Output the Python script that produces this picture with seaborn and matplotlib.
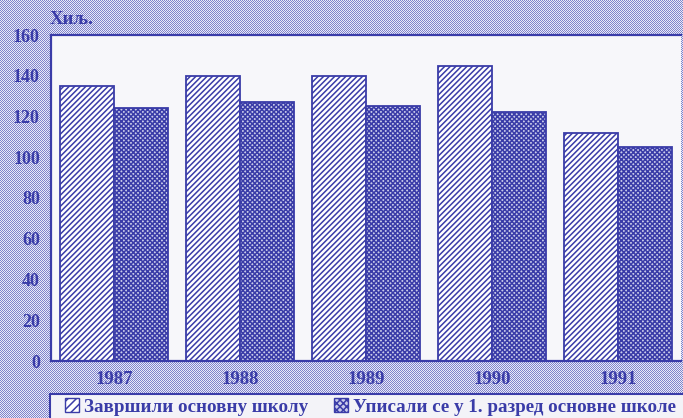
import numpy as np
import pandas as pd
import matplotlib
matplotlib.use("Agg")
import matplotlib.pyplot as plt
from matplotlib.patches import Patch, Rectangle
import seaborn as sns

years = ["1987", "1988", "1989", "1990", "1991"]
finished = [135, 140, 140, 145, 112]
enrolled = [124, 127, 125, 122, 105]
series_names = ["Завршили основну школу", "Уписали се у 1. разред основне школе"]
y_ticks = [0, 20, 40, 60, 80, 100, 120, 140, 160]
unit_label = "Хиљ."

df = pd.DataFrame({
    "year": years * 2,
    "series": [series_names[0]] * len(years) + [series_names[1]] * len(years),
    "value": finished + enrolled,
})

sns.set_theme(style="white")
plt.rcParams["font.family"] = ["Liberation Serif", "DejaVu Serif"]
plt.rcParams["hatch.color"] = "#3a3ca8"
plt.rcParams["hatch.linewidth"] = 1.1

ink = "#3a3ca8"
fills = ["white", "#c9cbea"]
W, H = 683, 418
fig = plt.figure(figsize=(W / 100, H / 100), dpi=100)

# halftone paper texture behind everything
bg = fig.add_axes([0, 0, 1, 1], zorder=-1)
yy, xx = np.mgrid[0:H, 0:W]
checker = ((xx + yy) % 2 == 0).astype(float)
base = np.array([0.92, 0.92, 0.97])
dot = np.array([0.50, 0.52, 0.80])
tex = base[None, None, :] * (1 - checker[..., None]) + dot[None, None, :] * checker[..., None]
bg.imshow(tex, aspect="auto", interpolation="nearest", extent=(0, 1, 0, 1))
bg.set_axis_off()

ax = fig.add_axes([51 / W, (H - 361) / H, 630 / W, (361 - 35) / H], zorder=1)
ax.set_facecolor("#f7f7fa")

sns.barplot(data=df, x="year", y="value", hue="series", ax=ax,
            width=0.86, dodge=True, legend=False, saturation=1,
            palette=["white", "white"])

hatches = ["//////", "xxxxxxx"]
for cont, h, fc in zip(ax.containers, hatches, fills):
    for bar in cont:
        bar.set_hatch(h)
        bar.set_edgecolor(ink)
        bar.set_linewidth(1.3)
        bar.set_facecolor(fc)

ax.set_ylim(0, 160)
ax.set_xlim(-0.5, 4.5)
ax.set_yticks(y_ticks)
ax.set_yticklabels([str(t) for t in y_ticks], fontsize=13, fontweight="bold", color=ink)
ax.set_xticklabels(years, fontsize=13.5, fontweight="bold", color=ink)
ax.tick_params(axis="y", length=0, pad=8)
ax.tick_params(axis="x", length=0, pad=7)
ax.set_xlabel("")
ax.set_ylabel("")
for s in ax.spines.values():
    s.set_color(ink)
    s.set_linewidth(1.6)
ax.spines["right"].set_visible(False)

fig.text(50 / W, 1 - 20 / H, unit_label, fontsize=13.5, fontweight="bold",
         color=ink, ha="left", va="center")

# legend box at the bottom
fig.add_artist(Rectangle((50 / W, -0.01), 1, (H - 394) / H + 0.01,
                         transform=fig.transFigure, facecolor="#f3f3f8",
                         edgecolor=ink, lw=1.5))
legend_specs = [(series_names[0], "////", 65, fills[0]),
                (series_names[1], "xxxxx", 334, fills[1])]
for label, h, x0, fc in legend_specs:
    leg = fig.legend([Patch(facecolor=fc, edgecolor=ink, hatch=h, lw=1.0)], [label],
                     loc="center left", bbox_to_anchor=(x0 / W, (H - 407) / H),
                     frameon=False,
                     prop={"family": "Liberation Serif", "weight": "bold", "size": 13.7},
                     handlelength=0.75, handleheight=0.7, handletextpad=0.25,
                     borderaxespad=0, borderpad=0)
    for t in leg.get_texts():
        t.set_color(ink)

fig.savefig("out.png", dpi=100)
